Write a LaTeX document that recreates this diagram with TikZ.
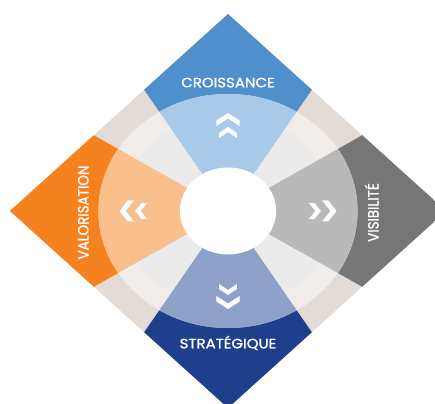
\documentclass[tikz,border=0pt]{standalone}
\usepackage{fontspec}
\newfontfamily\labelfont[FakeBold=1.2]{Poppins}

\definecolor{croisDark}{HTML}{4F8FCC}
\definecolor{croisLight}{HTML}{A9C9E8}
\definecolor{visiDark}{HTML}{767676}
\definecolor{visiLight}{HTML}{B9B9B9}
\definecolor{stratDark}{HTML}{1F3F8C}
\definecolor{stratLight}{HTML}{8DA1C9}
\definecolor{valoDark}{HTML}{F5821F}
\definecolor{valoLight}{HTML}{F9C08E}
\definecolor{gapOuter}{HTML}{E2DBD6}
\definecolor{gapMid}{HTML}{F1EDEA}
\definecolor{gapInner}{HTML}{EBEBEB}

\tikzset{
  lbl/.style={text=white, font=\labelfont\fontsize{13.5}{13.5}\selectfont,
    transform shape, inner sep=0pt, anchor=base},
}

% one white chevron: rotation, apex radius, half width, rise, thickness
\newcommand{\chevron}[5]{%
  \fill[white, rotate=#1] (0,#2) -- (#3,#2-#4) -- (#3,#2-#4-#5) -- (0,#2-#5)
    -- (-#3,#2-#4-#5) -- (-#3,#2-#4) -- cycle;}

\begin{document}
\begin{tikzpicture}[x=1pt, y=1pt, xscale=1.107]
	\useasboundingbox (-205.96,-192) rectangle (186.99,211);

	\begin{scope}
		\clip (0,197) -- (197,0) -- (0,-197) -- (-197,0) -- cycle;
		% outer band
		\fill[gapOuter] (-200,-200) rectangle (200,200);
		% corner sectors
		\fill[croisDark] (0,0) -- (58:300) arc[start angle=58, end angle=122, radius=300] -- cycle;
		\fill[valoDark] (0,0) -- (148:300) arc[start angle=148, end angle=212, radius=300] -- cycle;
		\fill[stratDark] (0,0) -- (238:300) arc[start angle=238, end angle=302, radius=300] -- cycle;
		\fill[visiDark] (0,0) -- (-32:300) arc[start angle=-32, end angle=32, radius=300] -- cycle;
		% rings
		\fill[gapMid] (0,0) circle [radius=117];
		\fill[gapInner] (0,0) circle [radius=96];
		\fill[croisLight] (0,0) -- (58:117) arc[start angle=58, end angle=122, radius=117] -- cycle;
		\fill[valoLight] (0,0) -- (148:117) arc[start angle=148, end angle=212, radius=117] -- cycle;
		\fill[stratLight] (0,0) -- (238:117) arc[start angle=238, end angle=302, radius=117] -- cycle;
		\fill[visiLight] (0,0) -- (-32:117) arc[start angle=-32, end angle=32, radius=117] -- cycle;
	\end{scope}

	% hub
	\fill[white] (0,0) circle [radius=43.5];

	% chevrons
	\chevron{0}{98}{10.5}{7.5}{5.5}
	\chevron{0}{84}{8}{6}{5}
	\chevron{90}{98}{10.5}{7.5}{5.5}
	\chevron{90}{84}{8}{6}{5}
	\chevron{180}{98}{10.5}{7.5}{5.5}
	\chevron{180}{84}{8}{6}{5}
	\chevron{-90}{98}{10.5}{7.5}{5.5}
	\chevron{-90}{84}{8}{6}{5}

	% labels
	\node[lbl] (crois) at (0,123.7) {CROISSANCE};
	\node[lbl] (strat) at (0,-137.3) {STRATÉGIQUE};
	\node[lbl, rotate=90] (valo) at (-126,-1.5) {VALORISATION};
	\node[lbl, rotate=90] (visi) at (136,-1.5) {VISIBILITÉ};
\end{tikzpicture}
\end{document}
